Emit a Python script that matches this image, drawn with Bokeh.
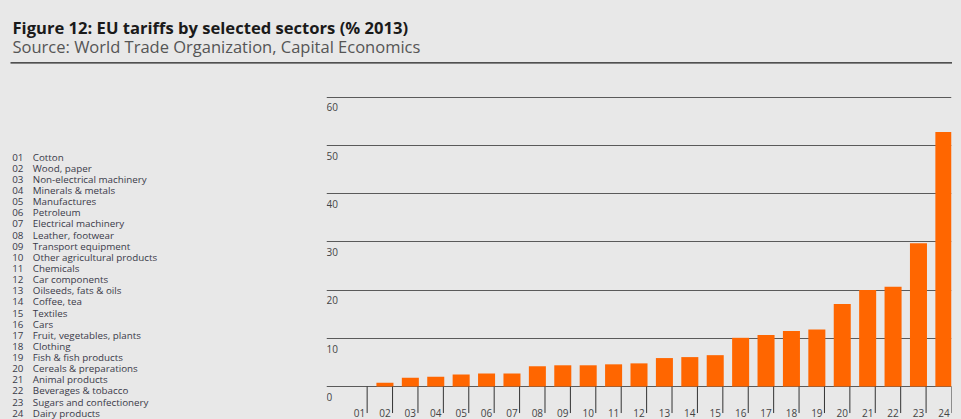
from bokeh.plotting import figure
from bokeh.models import Range1d, FixedTicker, Grid, InlineStyleSheet
from bokeh.layouts import column, row
from bokeh.core.properties import value
from bokeh.embed import file_html
from bokeh.resources import INLINE

# ---------------- data ----------------
codes = ["01", "02", "03", "04", "05", "06", "07", "08", "09", "10", "11", "12",
         "13", "14", "15", "16", "17", "18", "19", "20", "21", "22", "23", "24"]
sectors = ["Cotton", "Wood, paper", "Non-electrical machinery", "Minerals & metals",
           "Manufactures", "Petroleum", "Electrical machinery", "Leather, footwear",
           "Transport equipment", "Other agricultural products", "Chemicals",
           "Car components", "Oilseeds, fats & oils", "Coffee, tea", "Textiles", "Cars",
           "Fruit, vegetables, plants", "Clothing", "Fish & fish products",
           "Cereals & preparations", "Animal products", "Beverages & tobacco",
           "Sugars and confectionery", "Dairy products"]
tariffs = [0.0, 0.8, 1.8, 2.0, 2.5, 2.7, 2.7, 4.2, 4.4, 4.4, 4.6, 4.8,
           5.9, 6.1, 6.5, 10.1, 10.7, 11.5, 11.8, 17.1, 20.0, 20.7, 29.7, 52.8]
y_ticks = [0, 10, 20, 30, 40, 50, 60]
y_tick_labels = ["0", "10", "20", "30", "40", "50", "60"]
title_text = "Figure 12: EU tariffs by selected sectors (% 2013)"
source_text = "Source: World Trade Organization, Capital Economics"

BG = "#e8e8e8"
FONT = value("Open Sans")
ORANGE = "#ff6600"
TXT = "#444444"


def host_bg():
    return InlineStyleSheet(css=":host { background-color: %s; }" % BG)


def blank(fig):
    fig.background_fill_color = BG
    fig.border_fill_color = BG
    fig.outline_line_color = None
    fig.min_border = 0
    fig.xgrid.visible = False
    fig.ygrid.visible = False
    fig.stylesheets = [host_bg()]
    return fig


# ---------------- header ----------------
header = figure(width=961, height=70, x_range=Range1d(0, 961), y_range=Range1d(70, 0),
                output_backend="svg", toolbar_location=None,
                x_axis_type=None, y_axis_type=None)
blank(header)
header.text(x=[12], y=[26.5], text=[title_text], text_font=FONT, text_font_size="16.6px",
            text_font_style="bold", text_color="#1a1a1a", text_baseline="alphabetic")
header.text(x=[12], y=[45.7], text=[source_text], text_font=FONT, text_font_size="16.5px",
            text_color="#555555", text_baseline="alphabetic")
header.segment(x0=[10], y0=[62.3], x1=[951.5], y1=[62.3], line_color="#1e1e1e", line_width=1.3)

# ---------------- shared vertical geometry of the lower row ----------------
TOP_BORDER = 26
LOWER_H = 349

# ---------------- legend list ----------------
LW = 296
leg = figure(width=LW, height=LOWER_H, x_range=Range1d(0, LW), y_range=Range1d(419, 96),
             output_backend="svg", toolbar_location=None,
             x_axis_type=None, y_axis_type=None)
blank(leg)
leg.min_border_top = TOP_BORDER
rows_y = [156.7 + 11.13 * k for k in range(len(codes))]
leg.text(x=[11.7] * len(codes), y=rows_y, text=codes, text_font=FONT, text_font_size="9.8px",
         text_color="#3a3a48", text_baseline="alphabetic")
leg.text(x=[32.3] * len(codes), y=rows_y, text=sectors, text_font=FONT, text_font_size="9.8px",
         text_color="#3a3a48", text_baseline="alphabetic")

# ---------------- chart ----------------
pos = list(range(1, len(codes) + 1))          # bar / label centres
bounds = [p + 0.3 for p in pos]               # category separators (tick marks)
Y_TOP = 60.14
Y_BOTTOM = -6.84                              # room below the axis for ticks and labels
TICK_LEN = -5.5                               # tick marks hang below the zero line

p = figure(width=961 - LW, height=LOWER_H, x_range=Range1d(-0.3, 24.3),
           y_range=Range1d(Y_BOTTOM, Y_TOP),
           output_backend="svg", toolbar_location=None,
           x_axis_type=None, y_axis_type=None)
blank(p)
p.min_border_left = 30
p.min_border_right = 10
p.min_border_top = TOP_BORDER
p.min_border_bottom = 0

grid = Grid(dimension=1, ticker=FixedTicker(ticks=y_ticks), grid_line_color="#5a5a5a",
            grid_line_width=1)
p.add_layout(grid)

p.vbar(x=pos, top=tariffs, width=0.67, fill_color=ORANGE, line_color=None)

# category separator ticks below the zero line
p.segment(x0=bounds, y0=[0] * len(bounds), x1=bounds, y1=[TICK_LEN] * len(bounds),
          line_color="#333333", line_width=1)
# x tick labels
p.text(x=pos, y=[0] * len(pos), text=codes, y_offset=26.5, text_align="center",
       text_baseline="alphabetic", text_font=FONT, text_font_size="10px", text_color=TXT)
# y tick labels (sit just under each grid line, at the left edge)
p.text(x=[-0.3] * len(y_ticks), y=y_ticks, text=y_tick_labels, y_offset=10.3,
       text_align="left", text_baseline="alphabetic", text_font=FONT,
       text_font_size="10px", text_color=TXT)

lower = row(leg, p, spacing=0, stylesheets=[host_bg()])
layout = column(header, lower, spacing=0, stylesheets=[host_bg()])
html = file_html(layout, INLINE)
html = html.replace("<body>", '<body style="margin:0;background:%s">' % BG, 1)
open("out.html", "w").write(html)
